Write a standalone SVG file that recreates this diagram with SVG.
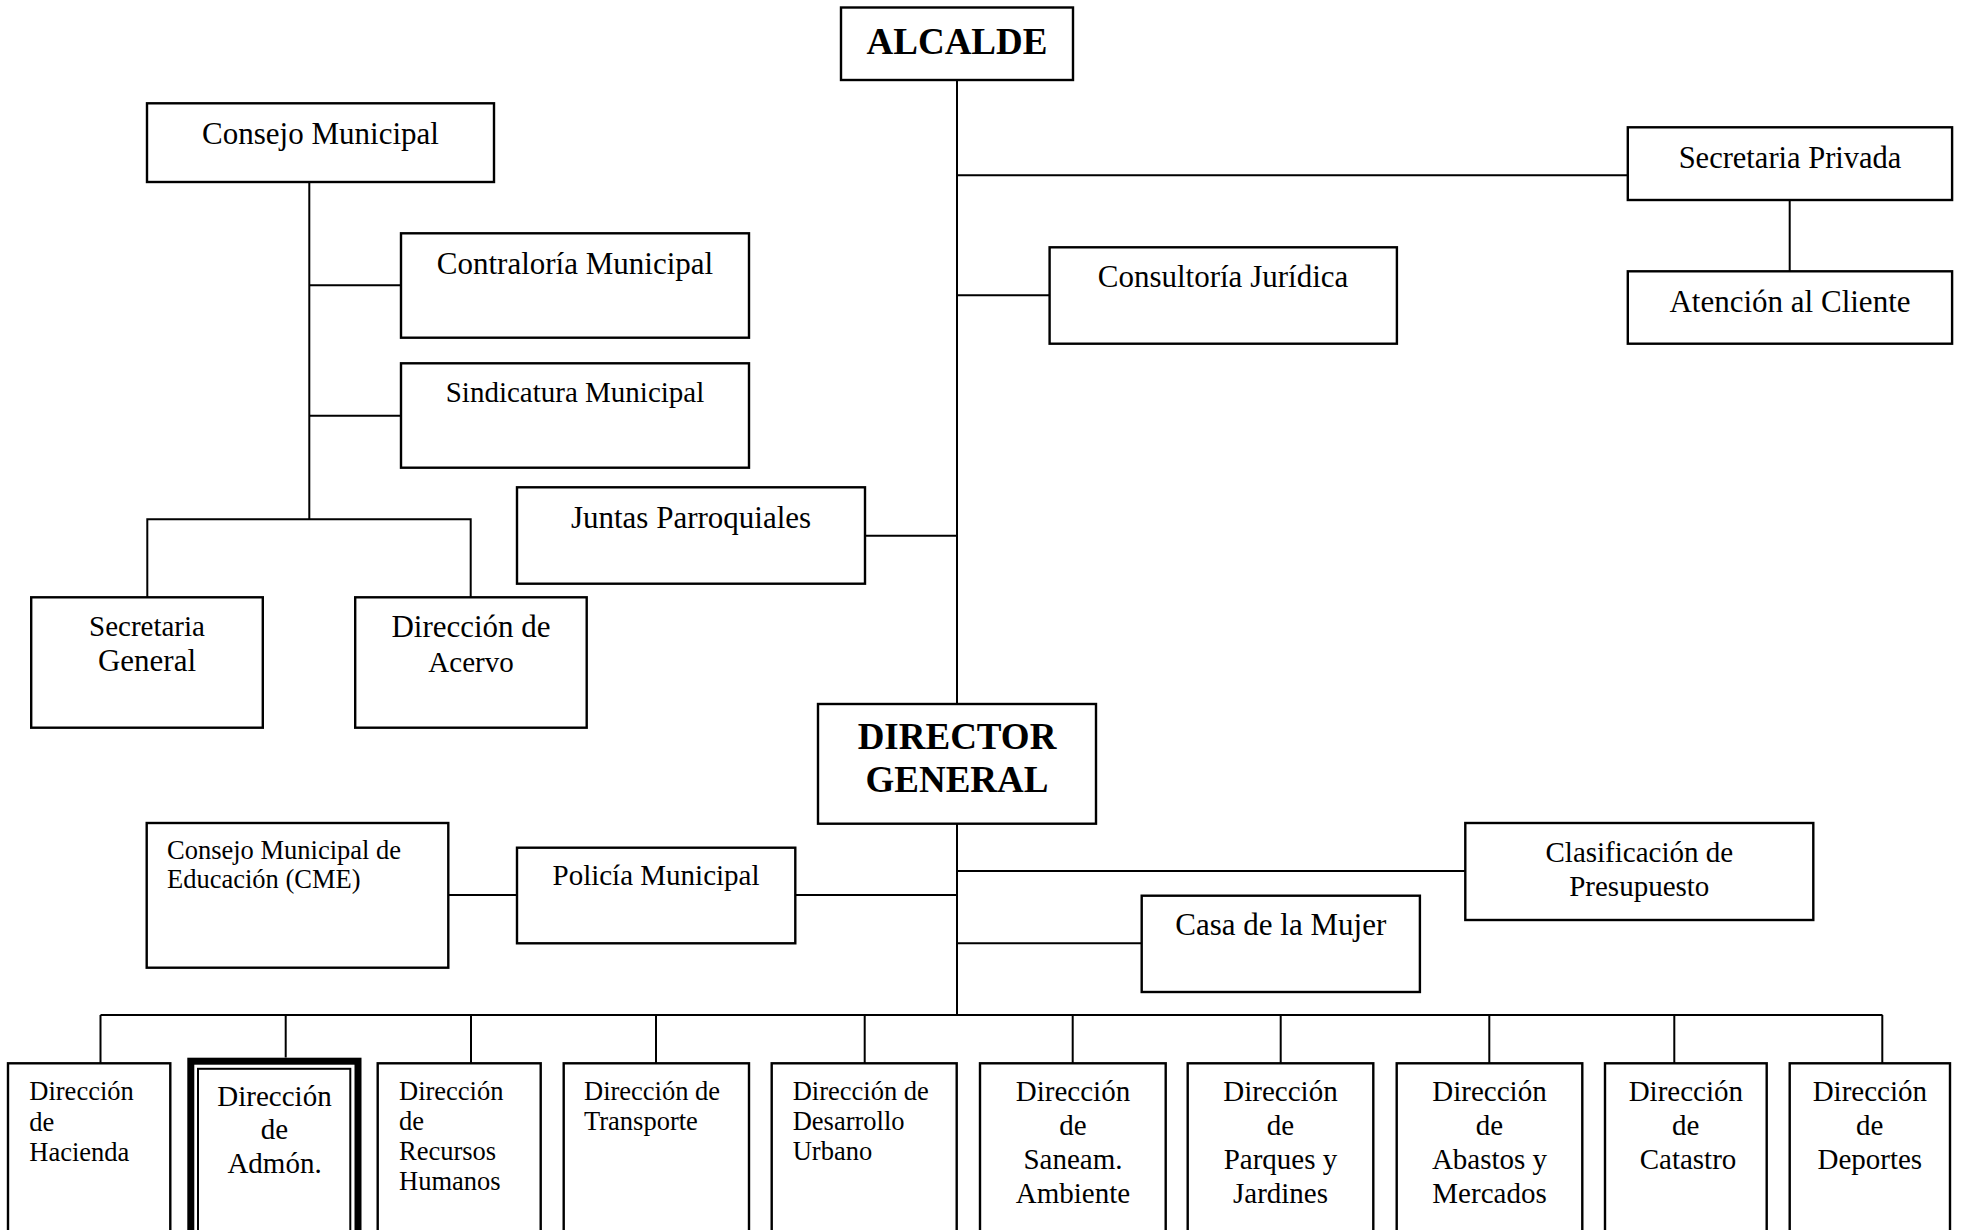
<svg xmlns="http://www.w3.org/2000/svg" width="1963" height="1230" viewBox="0 0 1963 1230">
<style>
.box{fill:#fff;stroke:#000;stroke-width:2.4}
.ln{fill:none;stroke:#000;stroke-width:2}
text{font-family:"Liberation Serif","Times New Roman",serif;fill:#000}
.c{text-anchor:middle}
.b{font-weight:bold;font-size:37px}
.s31{font-size:31px}
.s30{font-size:30.5px}
.s29{font-size:29px}
.s26{font-size:26.5px}
</style>
<rect width="1963" height="1230" fill="#fff"/>
<g id="connectors">
<path class="ln" d="M957,80V704M957,824V1015"/>
<path class="ln" d="M957,175.3H1627.8M1789.7,200V271.3"/>
<path class="ln" d="M957,295.3H1049.6"/>
<path class="ln" d="M865,535.7H957"/>
<path class="ln" d="M309.3,182V519.3M309.3,285.3H401M309.3,415.7H401"/>
<path class="ln" d="M147.3,597.3V519.3H470.7V597.3"/>
<path class="ln" d="M448.3,895H517M795.3,895H957"/>
<path class="ln" d="M957,871H1465.3M957,943.3H1141.7"/>
<path class="ln" d="M100.5,1015H1882.5"/>
<path class="ln" d="M100.5,1015V1063.3M285.7,1015V1057.5M471,1015V1063.3M656,1015V1063.3M864.7,1015V1063.3M1072.7,1015V1063.3M1280.7,1015V1063.3M1489.3,1015V1063.3M1674.3,1015V1063.3M1882.3,1015V1063.3"/>
</g>
<g id="alcalde">
<rect class="box" x="841" y="7.5" width="232" height="72.5"/>
<text class="c b" x="957" y="54">ALCALDE</text>
</g>
<g id="secretaria-privada">
<rect class="box" x="1627.8" y="127.3" width="324.3" height="72.7"/>
<text class="c s30" x="1790" y="167.7">Secretaria Privada</text>
</g>
<g id="atencion-cliente">
<rect class="box" x="1627.8" y="271.3" width="324.3" height="72.4"/>
<text class="c s31" x="1790" y="311.7">Atención al Cliente</text>
</g>
<g id="consultoria">
<rect class="box" x="1049.6" y="247.3" width="347.3" height="96.4"/>
<text class="c s31" x="1223" y="287.3">Consultoría Jurídica</text>
</g>
<g id="consejo-municipal">
<rect class="box" x="147" y="103.3" width="347" height="78.7"/>
<text class="c s31" x="320.5" y="144">Consejo Municipal</text>
</g>
<g id="contraloria">
<rect class="box" x="401" y="233.3" width="348" height="104.4"/>
<text class="c s31" x="575" y="274">Contraloría Municipal</text>
</g>
<g id="sindicatura">
<rect class="box" x="401" y="363.3" width="348" height="104.4"/>
<text class="c s29" x="575" y="401.7">Sindicatura Municipal</text>
</g>
<g id="juntas">
<rect class="box" x="517" y="487.3" width="348" height="96.4"/>
<text class="c s31" x="691" y="527.7">Juntas Parroquiales</text>
</g>
<g id="secretaria-general">
<rect class="box" x="31.2" y="597.3" width="231.6" height="130.4"/>
<text class="c s29" x="147" y="635.7">Secretaria</text>
<text class="c s31" x="147" y="670.7">General</text>
</g>
<g id="acervo">
<rect class="box" x="355.2" y="597.3" width="231.5" height="130.4"/>
<text class="c s31" x="471" y="636.7">Dirección de</text>
<text class="c s29" x="471" y="672.3">Acervo</text>
</g>
<g id="director-general">
<rect class="box" x="818" y="704" width="278" height="119.7"/>
<text class="c b" x="957" y="749.3">DIRECTOR</text>
<text class="c b" x="957" y="791.7">GENERAL</text>
</g>
<g id="cme">
<rect class="box" x="146.7" y="823" width="301.6" height="144.7"/>
<text class="s26" x="167" y="859">Consejo Municipal de</text>
<text class="s26" x="167" y="888.3">Educación (CME)</text>
</g>
<g id="policia">
<rect class="box" x="517" y="847.7" width="278.3" height="95.6"/>
<text class="c s29" x="656" y="885">Policía Municipal</text>
</g>
<g id="clasificacion">
<rect class="box" x="1465.3" y="823" width="348" height="97"/>
<text class="c s29" x="1639.3" y="862">Clasificación de</text>
<text class="c s29" x="1639.3" y="896">Presupuesto</text>
</g>
<g id="casa-mujer">
<rect class="box" x="1141.7" y="895.7" width="278.2" height="96.3"/>
<text class="c s31" x="1280.8" y="935">Casa de la Mujer</text>
</g>
<g id="hacienda">
<rect class="box" x="8" y="1063.3" width="162.3" height="200"/>
<text class="s26" x="29.3" y="1100">Dirección</text>
<text class="s26" x="29.3" y="1130.5">de</text>
<text class="s26" x="29.3" y="1161">Hacienda</text>
</g>
<g id="admon">
<rect fill="#fff" stroke="#000" stroke-width="7" x="190.8" y="1061.2" width="167.2" height="200"/>
<rect fill="none" stroke="#000" stroke-width="2" x="198" y="1068.8" width="152.3" height="200"/>
<text class="c s29" x="274.5" y="1105.7">Dirección</text>
<text class="c s29" x="274.5" y="1139.2">de</text>
<text class="c s29" x="274.5" y="1172.7">Admón.</text>
</g>
<g id="rrhh">
<rect class="box" x="377.7" y="1063.3" width="163" height="200"/>
<text class="s26" x="399" y="1100">Dirección</text>
<text class="s26" x="399" y="1130">de</text>
<text class="s26" x="399" y="1160">Recursos</text>
<text class="s26" x="399" y="1190">Humanos</text>
</g>
<g id="transporte">
<rect class="box" x="563.7" y="1063.3" width="185.3" height="200"/>
<text class="s26" x="584" y="1100">Dirección de</text>
<text class="s26" x="584" y="1130">Transporte</text>
</g>
<g id="desarrollo-urbano">
<rect class="box" x="771.7" y="1063.3" width="185" height="200"/>
<text class="s26" x="792.7" y="1100">Dirección de</text>
<text class="s26" x="792.7" y="1130">Desarrollo</text>
<text class="s26" x="792.7" y="1160">Urbano</text>
</g>
<g id="saneamiento">
<rect class="box" x="980" y="1063.3" width="185.7" height="200"/>
<text class="c s29" x="1073" y="1101">Dirección</text>
<text class="c s29" x="1073" y="1135">de</text>
<text class="c s29" x="1073" y="1169">Saneam.</text>
<text class="c s29" x="1073" y="1203">Ambiente</text>
</g>
<g id="parques">
<rect class="box" x="1187.7" y="1063.3" width="185.6" height="200"/>
<text class="c s29" x="1280.5" y="1101">Dirección</text>
<text class="c s29" x="1280.5" y="1135">de</text>
<text class="c s29" x="1280.5" y="1169">Parques y</text>
<text class="c s29" x="1280.5" y="1203">Jardines</text>
</g>
<g id="abastos">
<rect class="box" x="1396.7" y="1063.3" width="185.6" height="200"/>
<text class="c s29" x="1489.5" y="1101">Dirección</text>
<text class="c s29" x="1489.5" y="1135">de</text>
<text class="c s29" x="1489.5" y="1169">Abastos y</text>
<text class="c s29" x="1489.5" y="1203">Mercados</text>
</g>
<g id="catastro">
<rect class="box" x="1605" y="1063.3" width="161.7" height="200"/>
<text class="c s29" x="1685.8" y="1101">Dirección</text>
<text class="c s29" x="1685.8" y="1135">de</text>
<text class="c s29" x="1688" y="1169">Catastro</text>
</g>
<g id="deportes">
<rect class="box" x="1789.7" y="1063.3" width="160.3" height="200"/>
<text class="c s29" x="1869.8" y="1101">Dirección</text>
<text class="c s29" x="1869.8" y="1135">de</text>
<text class="c s29" x="1869.8" y="1169">Deportes</text>
</g>
</svg>
